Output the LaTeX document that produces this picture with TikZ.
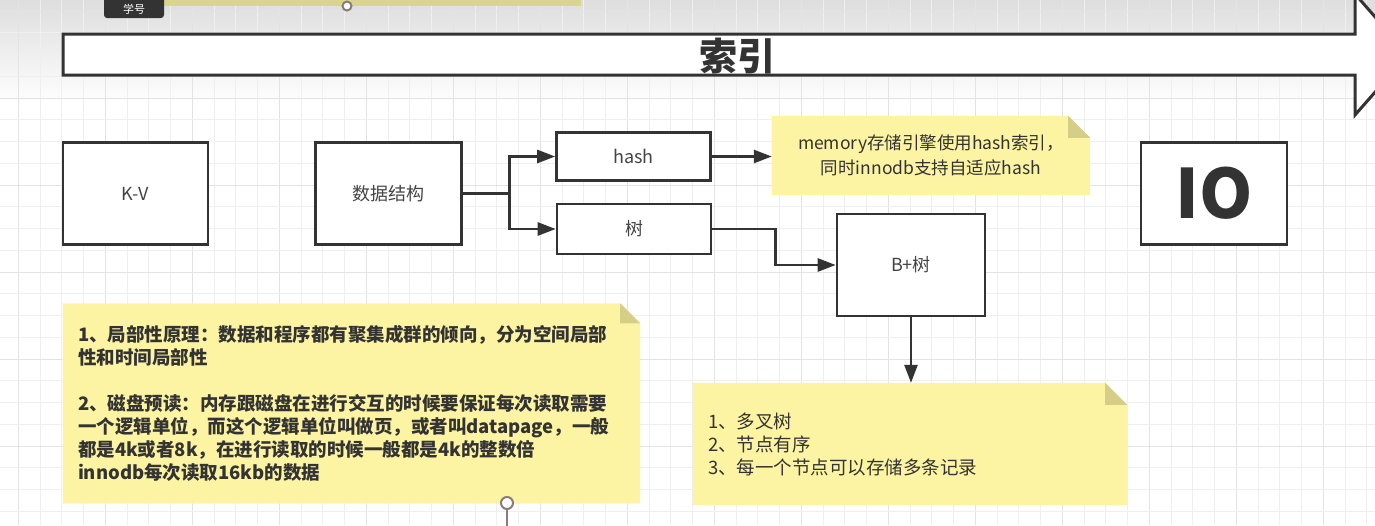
\documentclass[tikz,border=0pt]{standalone}
\usepackage{fontspec}
\setmainfont{Noto Sans CJK SC}
\usetikzlibrary{arrows.meta,calc}
\definecolor{ln}{HTML}{333333}
\definecolor{txt}{HTML}{444444}
\definecolor{notey}{HTML}{FCF4A3}
\definecolor{foldy}{HTML}{D6CE86}
\definecolor{gridminor}{HTML}{EFEFEF}
\definecolor{gridmajor}{HTML}{E3E3E3}
\definecolor{pin}{HTML}{8A7D78}
\definecolor{tagbar}{HTML}{D9D58F}
\definecolor{tagdark}{HTML}{333333}
\pgfdeclarelayer{bglayer}
\pgfdeclarelayer{notelayer}
\pgfsetlayers{bglayer,notelayer,main}
\tikzset{
  box/.style={draw=ln, line width=2.6pt, fill=white, text=txt,
    font=\fontsize{18}{22}\selectfont, inner sep=0pt},
  conn/.style={draw=ln, line width=2.6pt, -{Triangle[length=18pt,width=13pt]}},
  notearea/.style={inner xsep=15pt, inner ysep=0pt, text=ln, align=left},
  pinline/.style={draw=pin, line width=2pt},
}
\begin{document}
\begin{tikzpicture}[x=1pt,y=-1pt]
\useasboundingbox (0,0) rectangle (1375,525);
\clip (0,0) rectangle (1375,525);

% ---------- background ----------
\begin{pgfonlayer}{bglayer}
  \fill[white] (0,0) rectangle (1375,525);
  \shade[top color=black!13, bottom color=white] (0,0) rectangle (1375,105);
  \foreach \i in {0,...,62} {
    \pgfmathtruncatemacro{\m}{mod(\i,4)}
    \ifnum\m=0 \def\gc{gridmajor}\else\def\gc{gridminor}\fi
    \draw[\gc, line width=0.9pt] ({18.25+\i*21.75},0) -- ++(0,525);
  }
  \foreach \j in {0,...,23} {
    \pgfmathtruncatemacro{\m}{mod(\j,4)}
    \ifnum\m=0 \def\gc{gridmajor}\else\def\gc{gridminor}\fi
    \draw[\gc, line width=0.9pt] (0,{11+\j*21.75}) -- ++(1375,0);
  }
\end{pgfonlayer}

% ---------- top strip ----------
\fill[tagbar] (163,-5) rectangle (581,6);
\node[pinline, circle, fill=white, minimum size=9pt, inner sep=0pt] (toppin) at (347,6) {};
\fill[tagdark, rounded corners=3pt] (104,-8) rectangle (164,18);
\node[text=white, font=\fontsize{11}{11}\selectfont, inner sep=0pt] (tag) at (134,9) {学号};

% ---------- banner arrow ----------
\fill[white] (63,34) -- (1355,34) -- (1355,-6) -- (1408,54.5) -- (1355,115)
  -- (1355,75) -- (63,75) -- cycle;
\node[font=\fontsize{38}{40}\selectfont\bfseries, text=ln, inner sep=0pt] (title) at (737.5,56) {索引};
\draw[ln, line width=3pt, line join=miter] (63,34) -- (1355,34) -- (1355,-6) -- (1408,54.5) -- (1355,115)
  -- (1355,75) -- (63,75) -- cycle;

% ---------- boxes ----------
\node[box, minimum width=145pt, minimum height=102pt] (kv) at (135.5,193.5) {K-V};
\node[box, minimum width=146pt, minimum height=102pt] (ds) at (388.5,193.5) {数据结构};
\node[box, minimum width=154pt, minimum height=48pt] (hash) at (633.5,156.5) {hash};
\node[box, minimum width=154pt, minimum height=50pt] (tree) at (634,229) {树};
\node[box, minimum width=148pt, minimum height=102pt] (bplus) at (911,265) {B+树};
\node[box, minimum width=146pt, minimum height=102pt, text=ln,
      font=\fontsize{68}{70}\selectfont\bfseries] (io) at (1214,193.5) {IO};

% ---------- notes (text areas) ----------
\node[notearea, align=center, minimum width=318pt, minimum height=79pt,
      font=\fontsize{17.5}{24.5}\selectfont] (n1) at (931,155.5)
  {memory存储引擎使用hash索引，\\同时innodb支持自适应hash};
\node[notearea, minimum width=577pt, minimum height=200pt, text width=547pt,
      font=\fontsize{18.5}{23}\selectfont\bfseries] (n2) at (351.5,403.5)
  {1、局部性原理：数据和程序都有聚集成群的倾向，分为空间局部\\
   性和时间局部性\\
   \mbox{}\\
   2、磁盘预读：内存跟磁盘在进行交互的时候要保证每次读取需要\\
   一个逻辑单位，而这个逻辑单位叫做页，或者叫datapage，一般\\
   都是4k或者8k，在进行读取的时候一般都是4k的整数倍\\
   innodb每次读取16kb的数据};
\node[notearea, minimum width=434pt, minimum height=122pt, text width=404pt,
      font=\fontsize{18.5}{23}\selectfont] (n3) at (910,444)
  {1、多叉树\\2、节点有序\\3、每一个节点可以存储多条记录};

\begin{pgfonlayer}{notelayer}
  \foreach \n/\s in {n1/22,n2/20,n3/22} {
    \fill[notey] (\n.south west) -- (\n.north west) -- ($(\n.north east)+(-\s,0)$)
      -- ($(\n.north east)+(0,\s)$) -- (\n.south east) -- cycle;
    \fill[foldy] ($(\n.north east)+(-\s,0)$) -- ($(\n.north east)+(-\s,\s)$)
      -- ($(\n.north east)+(0,\s)$) -- cycle;
  }
\end{pgfonlayer}

% pin under note 2
\node[pinline, circle, fill=white, minimum size=12pt, inner sep=0pt] (botpin) at (507,503) {};
\coordinate (botend) at (507,530);
\draw[pinline] (botpin.south) -- (botend);

% ---------- connectors ----------
\draw[conn] (ds.east) -- ++(46.5,0) |- (hash.west);
\draw[conn] (ds.east) -- ++(46.5,0) |- (tree.west);
\draw[conn] (hash.east) -- (hash.east -| n1.west);
\draw[conn] (tree.east) -- ++(63,0) |- (bplus.west);
\draw[conn] (bplus.south) -- (bplus.south |- n3.north);
\end{tikzpicture}
\end{document}
